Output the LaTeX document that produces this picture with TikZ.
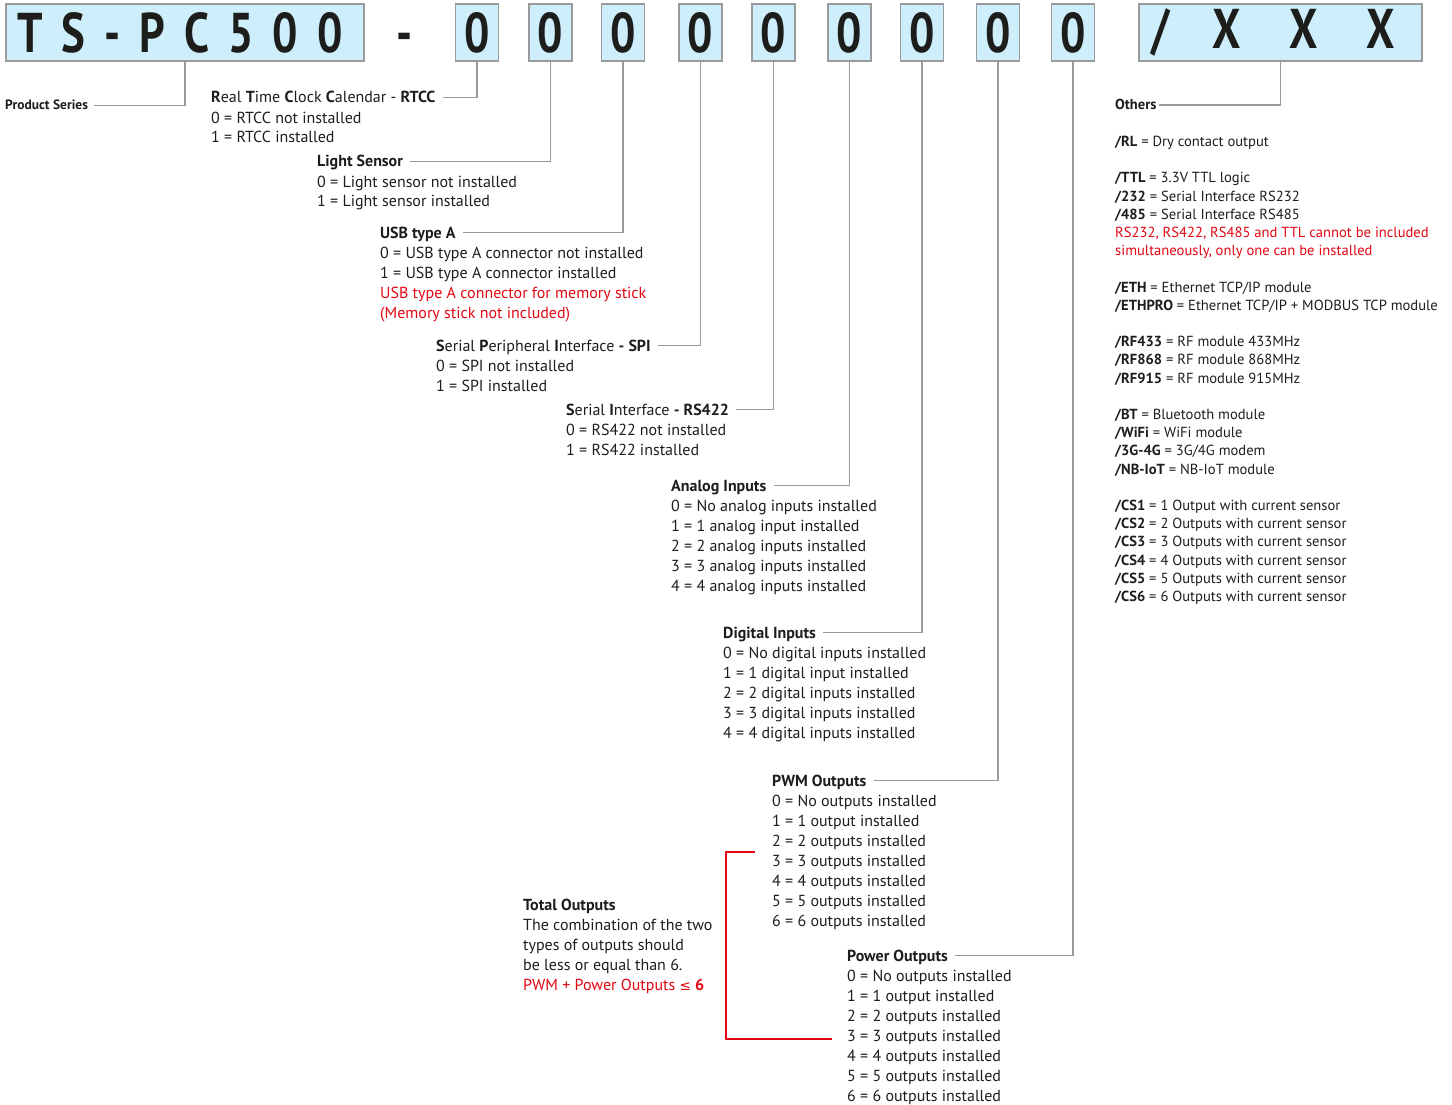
\documentclass[tikz,border=0pt]{standalone}
\usepackage{fontspec}
\setmainfont{PT Sans}
\newfontfamily\codefont[FakeStretch=0.8]{PT Sans}
\newfontfamily\symfont{DejaVu Sans}
\usetikzlibrary{positioning}
\definecolor{boxfill}{HTML}{CDEEFA}
\definecolor{boxline}{HTML}{9A9A9A}
\definecolor{txt}{HTML}{1D1D1B}
\definecolor{warn}{HTML}{E30613}
\newcommand\gapk{\kern19pt}
\newcommand\gapx{\kern49pt}
\newcommand\ogap{18.2pt}

\begin{document}
\begin{tikzpicture}[x=1pt,y=-1pt,
    codebox/.style={draw=boxline,line width=1.6pt,fill=boxfill,minimum height=57pt,
      inner sep=0pt,text=txt,font=\codefont\bfseries\fontsize{56}{56}\selectfont},
    digitbox/.style={codebox,minimum width=43pt},
    link/.style={draw=boxline,line width=1.2pt,shorten >=7pt},
    ttl/.style={anchor=base west,inner sep=0pt,text height=11pt,text depth=0pt,
      text=txt,font=\fontsize{16}{20}\selectfont},
    lst/.style={anchor=base west,inner sep=0pt,align=left,text=txt,
      font=\fontsize{16}{20}\selectfont},
    olst/.style={lst,font=\fontsize{14.6}{\ogap}\selectfont}]
  \useasboundingbox (0,0) rectangle (1452,1105);

  % code boxes
  \node[codebox,minimum width=358pt] (series) at (185,32.5)
    {T\gapk S\gapk -\gapk P\gapk C\gapk 5\gapk 0\gapk 0\kern10pt};
  \node[anchor=base,inner sep=0pt,text=txt,
    font=\codefont\bfseries\fontsize{56}{56}\selectfont] (dash) at (405,53) {-};
  \foreach \cx [count=\i] in {477,550.5,623,700.5,773.5,849.5,922,998,1073}
    \node[digitbox] (d\i) at (\cx,32.5) {0};
  \node[codebox,minimum width=283pt] (extra) at (1280.5,32.5)
    {/\kern42pt X\gapx X\gapx X\kern14pt};

  % titles and values (value nodes sit on their last baseline)
  \node[ttl,text height=9.5pt,font=\fontsize{13.5}{16}\selectfont\bfseries] (prod) at (5,110)
    {Product Series};

  \node[ttl] (rtcc) at (211,103)
    {\textbf{R}eal \textbf{T}ime \textbf{C}lock \textbf{C}alendar - \textbf{RTCC}};
  \node[lst] (rtccv) at (211,143)
    {0 = RTCC not installed\\1 = RTCC installed};

  \node[ttl] (light) at (317,167) {\textbf{Light Sensor}};
  \node[lst] (lightv) at (317,207)
    {0 = Light sensor not installed\\1 = Light sensor installed};

  \node[ttl] (usb) at (380,238) {\textbf{USB type A}};
  \node[lst] (usbv) at (380,318)
    {0 = USB type A connector not installed\\
     1 = USB type A connector installed\\
     \textcolor{warn}{USB type A connector for memory stick}\\
     \textcolor{warn}{(Memory stick not included)}};

  \node[ttl] (spi) at (436,351)
    {\textbf{S}erial \textbf{P}eripheral \textbf{I}nterface \textbf{- SPI}};
  \node[lst] (spiv) at (436,391)
    {0 = SPI not installed\\1 = SPI installed};

  \node[ttl] (rs) at (566,415)
    {\textbf{S}erial \textbf{I}nterface \textbf{- RS422}};
  \node[lst] (rsv) at (566,455)
    {0 = RS422 not installed\\1 = RS422 installed};

  \node[ttl] (ana) at (671,491) {\textbf{Analog Inputs}};
  \node[lst] (anav) at (671,591)
    {0 = No analog inputs installed\\
     1 = 1 analog input installed\\
     2 = 2 analog inputs installed\\
     3 = 3 analog inputs installed\\
     4 = 4 analog inputs installed};

  \node[ttl] (dig) at (723,638) {\textbf{Digital Inputs}};
  \node[lst] (digv) at (723,738)
    {0 = No digital inputs installed\\
     1 = 1 digital input installed\\
     2 = 2 digital inputs installed\\
     3 = 3 digital inputs installed\\
     4 = 4 digital inputs installed};

  \node[ttl] (pwm) at (772,786) {\textbf{PWM Outputs}};
  \node[lst] (pwmv) at (772,926)
    {0 = No outputs installed\\
     1 = 1 output installed\\
     2 = 2 outputs installed\\
     3 = 3 outputs installed\\
     4 = 4 outputs installed\\
     5 = 5 outputs installed\\
     6 = 6 outputs installed};

  \node[ttl] (pow) at (847,961) {\textbf{Power Outputs}};
  \node[lst] (powv) at (847,1101)
    {0 = No outputs installed\\
     1 = 1 output installed\\
     2 = 2 outputs installed\\
     3 = 3 outputs installed\\
     4 = 4 outputs installed\\
     5 = 5 outputs installed\\
     6 = 6 outputs installed};

  \node[ttl] (tot) at (523,910) {\textbf{Total Outputs}};
  \node[lst] (totv) at (523,990)
    {The combination of the two\\
     types of outputs should\\
     be less or equal than 6.\\
     \textcolor{warn}{PWM + Power Outputs {\symfont\fontsize{13.5}{20}\selectfont ≤} \textbf{6}}};

  \node[ttl,text height=10pt,font=\fontsize{14.5}{16}\selectfont\bfseries] (oth) at (1115,110)
    {Others};
  \node[olst] (othv) at (1115,601.5)
    {\textbf{/RL} = Dry contact output\\[\ogap]
     \textbf{/TTL} = 3.3V TTL logic\\
     \textbf{/232} = Serial Interface RS232\\
     \textbf{/485} = Serial Interface RS485\\
     \textcolor{warn}{RS232, RS422, RS485 and TTL cannot be included}\\
     \textcolor{warn}{simultaneously, only one can be installed}\\[\ogap]
     \textbf{/ETH} = Ethernet TCP/IP module\\
     \textbf{/ETHPRO} = Ethernet TCP/IP + MODBUS TCP module\\[\ogap]
     \textbf{/RF433} = RF module 433MHz\\
     \textbf{/RF868} = RF module 868MHz\\
     \textbf{/RF915} = RF module 915MHz\\[\ogap]
     \textbf{/BT} = Bluetooth module\\
     \textbf{/WiFi} = WiFi module\\
     \textbf{/3G-4G} = 3G/4G modem\\
     \textbf{/NB-IoT} = NB-IoT module\\[\ogap]
     \textbf{/CS1} = 1 Output with current sensor\\
     \textbf{/CS2} = 2 Outputs with current sensor\\
     \textbf{/CS3} = 3 Outputs with current sensor\\
     \textbf{/CS4} = 4 Outputs with current sensor\\
     \textbf{/CS5} = 5 Outputs with current sensor\\
     \textbf{/CS6} = 6 Outputs with current sensor};

  % connectors
  \draw[link,shorten >=6pt] (series.south) |- (prod.east);
  \foreach \a/\b in {d1/rtcc,d2/light,d3/usb,d4/spi,d5/rs,d6/ana,d7/dig,d8/pwm,d9/pow}
    \draw[link] (\a.south) |- (\b.east);
  \draw[link,shorten >=2pt] (extra.south) |- (oth.east);

  % total outputs bracket
  \draw[warn,line width=1.3pt] (755,852) -| (726,1039) -- (832,1039);
\end{tikzpicture}
\end{document}
